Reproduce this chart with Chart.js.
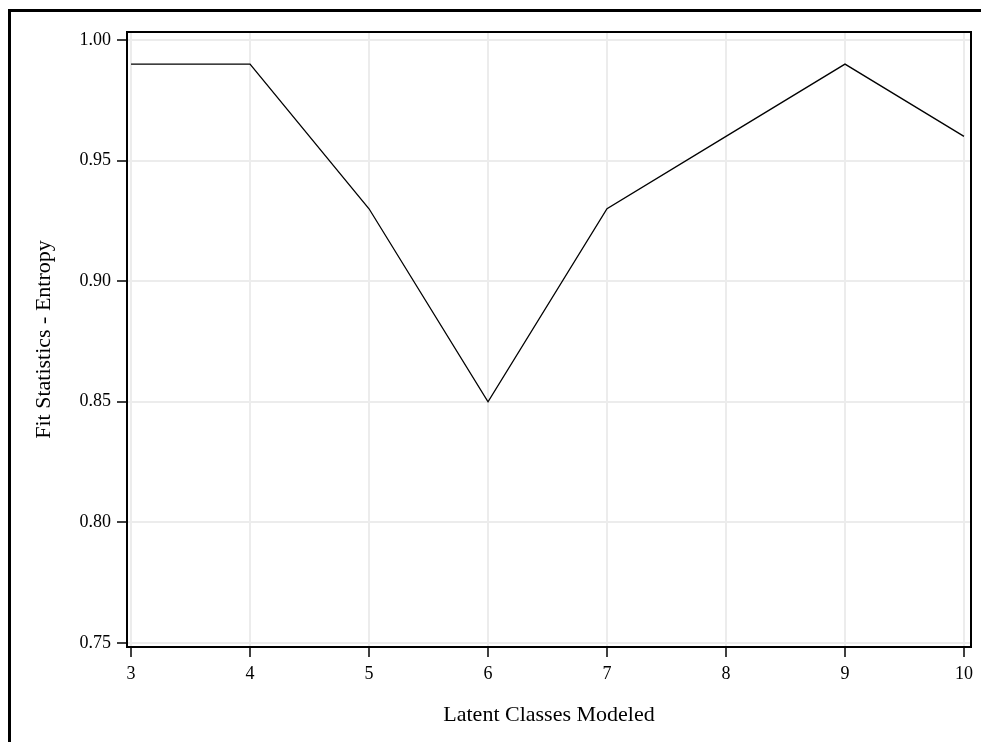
<!DOCTYPE html>
<html>
<head>
<meta charset="utf-8">
<script src="https://cdn.jsdelivr.net/npm/chart.js@4/dist/chart.umd.min.js"></script>
<style>
  html, body { margin: 0; padding: 0; background: #fff; }
  #wrap { width: 981px; height: 742px; }
</style>
</head>
<body>
<div id="wrap"><canvas id="entropy" width="981" height="742"></canvas></div>
<script>
// latent classes vs entropy
var classes = [3, 4, 5, 6, 7, 8, 9, 10]
var entropy = [0.99, 0.99, 0.93, 0.85, 0.93, 0.96, 0.99, 0.96]
var xticks = [3, 4, 5, 6, 7, 8, 9, 10]
var yticks = [0.75, 0.80, 0.85, 0.90, 0.95, 1.00]

var points = classes.map((c, i) => ({ x: c, y: entropy[i] }))

// outer frame + box round the plot area
var framePlugin = {
  id: 'frame',
  afterDraw(chart) {
    var ctx = chart.ctx
    var a = chart.chartArea
    ctx.save()
    ctx.strokeStyle = '#000'
    ctx.lineWidth = 3
    ctx.strokeRect(9.5, 10.5, 1000, 1000)
    ctx.lineWidth = 2
    ctx.strokeRect(a.left, a.top, a.right - a.left, a.bottom - a.top)
    ctx.restore()
  }
}

var ctx = document.getElementById('entropy')
var entropyChart = new Chart(ctx, {
  type: 'line',
  data: {
    datasets: [{
      data: points,
      borderColor: '#000',
      borderWidth: 1.3,
      pointRadius: 0,
      tension: 0,
      fill: false
    }]
  },
  options: {
    responsive: false,
    animation: false,
    layout: { padding: { left: 10, right: 10, top: 32, bottom: 0 } },
    plugins: { legend: { display: false }, tooltip: { enabled: false } },
    scales: {
      x: {
        type: 'linear',
        min: 2.966,
        max: 10.059,
        afterBuildTicks: (s) => { s.ticks = xticks.map(v => ({ value: v })) },
        afterFit: (s) => { s.height = 95 },
        grid: { color: '#ececec', lineWidth: 2, tickLength: 10, tickColor: '#000', tickWidth: 1.5 },
        border: { color: '#000', width: 2 },
        ticks: { color: '#000', padding: 6, maxRotation: 0, font: { family: 'Liberation Serif', size: 18 } },
        title: { display: true, text: 'Latent Classes Modeled', color: '#000', padding: { bottom: 14, top: 0 }, font: { family: 'Liberation Serif', size: 22 } }
      },
      y: {
        min: 0.7483,
        max: 1.0033,
        afterBuildTicks: (s) => { s.ticks = yticks.map(v => ({ value: v })) },
        afterFit: (s) => { s.width = 117 },
        grid: { color: '#ececec', lineWidth: 2, tickLength: 10, tickColor: '#000', tickWidth: 1.5 },
        border: { color: '#000', width: 2 },
        ticks: { color: '#000', padding: 6, callback: (v) => Number(v).toFixed(2), font: { family: 'Liberation Serif', size: 18 } },
        title: { display: true, text: 'Fit Statistics - Entropy', color: '#000', padding: { top: 21, bottom: 0 }, font: { family: 'Liberation Serif', size: 22 } }
      }
    }
  },
  plugins: [framePlugin]
})
</script>
</body>
</html>
